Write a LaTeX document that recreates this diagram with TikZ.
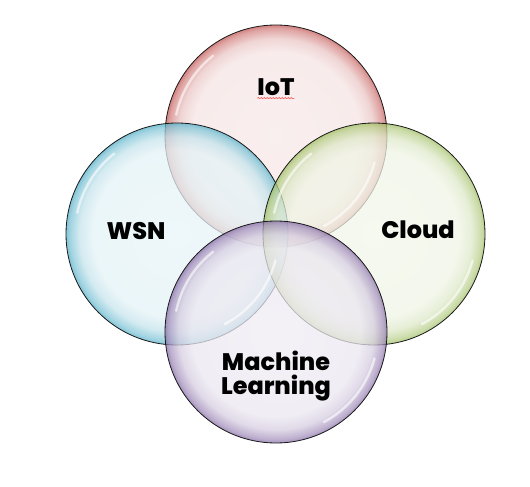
\documentclass[tikz,border=0pt]{standalone}
\usepackage{fontspec}
\setmainfont{Poppins}[BoldFont={Poppins ExtraBold}]
\usetikzlibrary{positioning,decorations.pathmorphing}

\definecolor{iotred}{RGB}{192,80,77}
\definecolor{wsnblue}{RGB}{75,172,198}
\definecolor{cloudgreen}{RGB}{155,187,89}
\definecolor{mlpurple}{RGB}{128,100,162}

% light inside, darker rim (circle edge sits at 25bp)
\newcommand{\bubbleshading}[2]{%
  \pgfdeclareradialshading{#1}{\pgfpoint{0bp}{0bp}}{%
    color(0bp)=(#2!12); color(19bp)=(#2!15); color(22bp)=(#2!32);
    color(24.2bp)=(#2!70); color(25bp)=(#2!95); color(50bp)=(#2!95)}}
\bubbleshading{iotshade}{iotred}
\bubbleshading{wsnshade}{wsnblue}
\bubbleshading{cloudshade}{cloudgreen}
\bubbleshading{mlshade}{mlpurple}

\tikzset{
  bubble/.style={circle, minimum size=222bp, inner sep=0pt, shade,
    draw=black!90, line width=0.8bp, fill opacity=0.74},
  lbl/.style={inner sep=0pt, align=center, font=\fontsize{24}{24}\selectfont\bfseries},
  gloss/.style={white, line width=2.4bp, opacity=0.6, line cap=round}
}

\begin{document}
\begin{tikzpicture}[x=1bp, y=-1bp]
  \useasboundingbox[fill=white] (0,0) rectangle (530,487);

  % circles
  \node[bubble, shading=iotshade]   (iot)   at (276,136) {};
  \node[bubble, shading=wsnshade]   (wsn)   at (177,234) {};
  \node[bubble, shading=cloudshade] (cloud) at (374,234) {};
  \node[bubble, shading=mlshade]    (ml)    at (276,332) {};

  % gloss arcs, upper left and lower right
  \foreach \c in {iot, wsn, cloud, ml} {
    \draw[gloss] ([shift={(192:102)}]\c.center) arc[start angle=192, end angle=232, radius=102];
    \draw[gloss] ([shift={(15:102)}]\c.center) arc[start angle=15, end angle=62, radius=102];
  }

  % labels
  \node[lbl] (iotlbl)   at ([yshift=49bp]iot.center) {IoT};
  \node[lbl] (wsnlbl)   at ([xshift=-41bp, yshift=3bp]wsn.center) {WSN};
  \node[lbl] (cloudlbl) at ([xshift=44bp, yshift=4bp]cloud.center) {Cloud};
  \node[lbl] (mllbl)    at ([yshift=-44bp]ml.center) {Machine\\Learning};

  % spell check line
  \draw[red!80, line width=0.4bp, decorate,
    decoration={snake, amplitude=0.7bp, segment length=3bp}]
    ([yshift=-2.5bp]iotlbl.south west) -- ([yshift=-2.5bp]iotlbl.south east);
\end{tikzpicture}
\end{document}
